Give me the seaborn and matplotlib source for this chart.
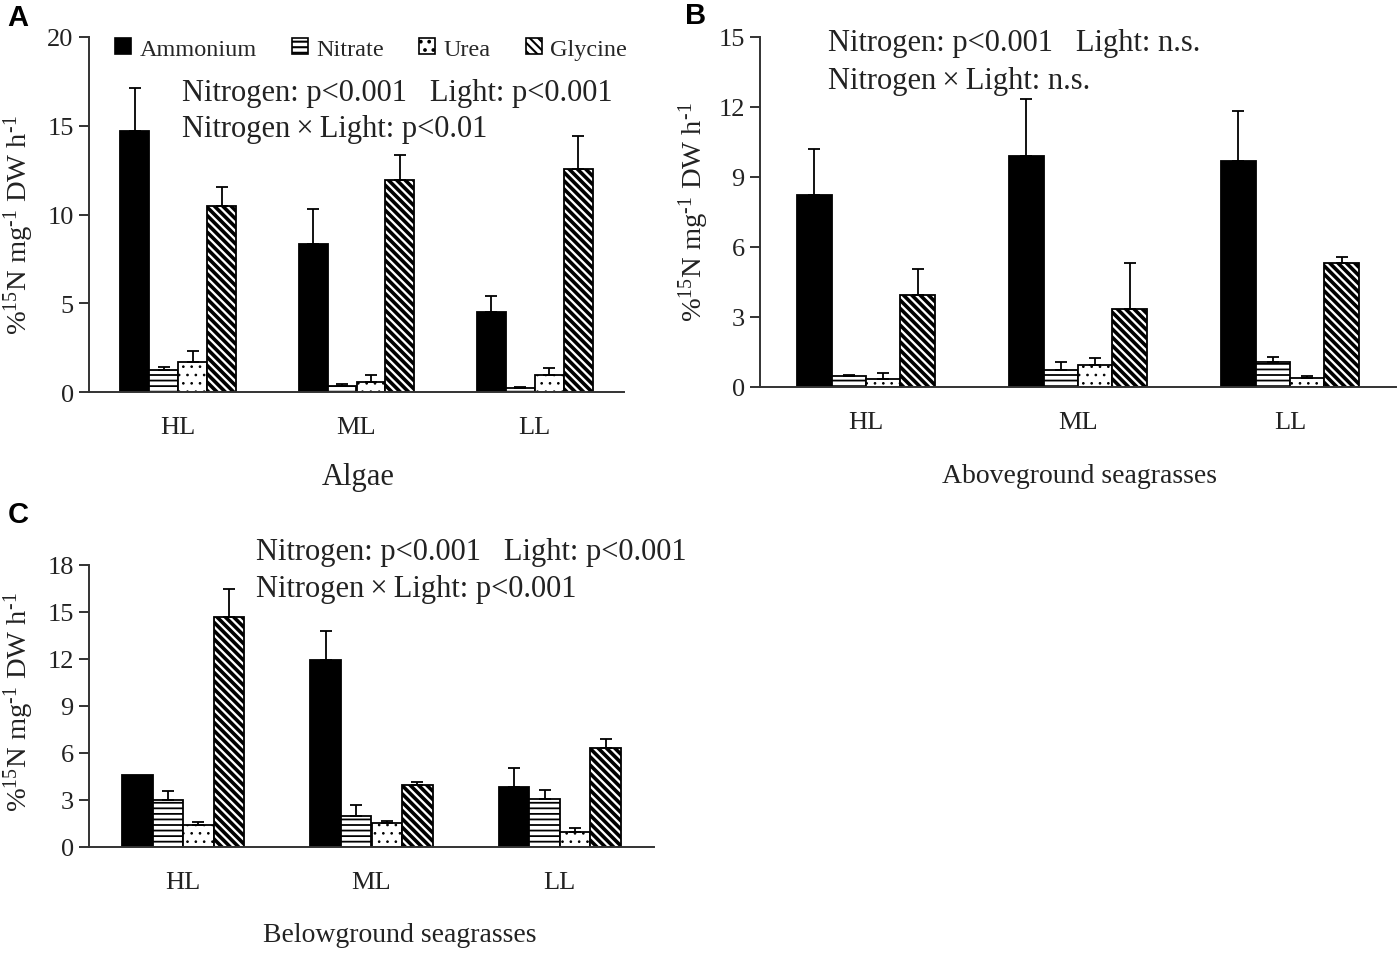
import numpy as np
import pandas as pd
import matplotlib
matplotlib.use("Agg")
import matplotlib.pyplot as plt
from matplotlib.patches import Patch
import seaborn as sns

# ---------------- data ----------------
lights = ["HL", "ML", "LL"]
forms = ["Ammonium", "Nitrate", "Urea", "Glycine"]

# Panel A: Algae (mean, upper SE)
algae_ammonium = [14.70, 8.33, 4.49]
algae_nitrate = [1.26, 0.36, 0.20]
algae_urea = [1.69, 0.55, 0.98]
algae_glycine = [10.49, 11.97, 12.59]
algae_ammonium_se = [2.40, 2.00, 0.94]
algae_nitrate_se = [0.15, 0.07, 0.06]
algae_urea_se = [0.60, 0.43, 0.35]
algae_glycine_se = [1.05, 1.39, 1.83]

# Panel B: Aboveground seagrasses
above_ammonium = [8.24, 9.91, 9.70]
above_nitrate = [0.47, 0.73, 1.07]
above_urea = [0.36, 0.93, 0.40]
above_glycine = [3.93, 3.33, 5.33]
above_ammonium_se = [1.97, 2.45, 2.13]
above_nitrate_se = [0.06, 0.36, 0.22]
above_urea_se = [0.25, 0.33, 0.07]
above_glycine_se = [1.11, 2.00, 0.24]

# Panel C: Belowground seagrasses
below_ammonium = [4.62, 11.94, 3.86]
below_nitrate = [3.00, 1.97, 3.07]
below_urea = [1.38, 1.53, 0.98]
below_glycine = [14.70, 3.97, 6.32]
below_ammonium_se = [0.00, 1.86, 1.19]
below_nitrate_se = [0.56, 0.72, 0.60]
below_urea_se = [0.21, 0.10, 0.21]
below_glycine_se = [1.78, 0.16, 0.59]

yticks_a = [0, 5, 10, 15, 20]
yticks_b = [0, 3, 6, 9, 12, 15]
yticks_c = [0, 3, 6, 9, 12, 15, 18]

stats_a = ["Nitrogen: p<0.001   Light: p<0.001", "Nitrogen\u2009\u00d7\u2009Light: p<0.01"]
stats_b = ["Nitrogen: p<0.001   Light: n.s.", "Nitrogen\u2009\u00d7\u2009Light: n.s."]
stats_c = ["Nitrogen: p<0.001   Light: p<0.001", "Nitrogen\u2009\u00d7\u2009Light: p<0.001"]

titles = ["Algae", "Aboveground seagrasses", "Belowground seagrasses"]
ylabel = "%$^{15}$N mg$^{\u2010 1}$ DW h$^{\u2010 1}$"

# ---------------- style ----------------
sns.set_theme(style="ticks")
plt.rcParams["font.family"] = ["Liberation Serif", "DejaVu Serif"]
plt.rcParams["mathtext.fontset"] = "custom"
plt.rcParams["mathtext.rm"] = "Liberation Serif"
plt.rcParams["mathtext.it"] = "Liberation Serif:italic"
plt.rcParams["mathtext.bf"] = "Liberation Serif:bold"
plt.rcParams["mathtext.default"] = "rm"
plt.rcParams["hatch.linewidth"] = 1.5

palette = {"Ammonium": "black", "Nitrate": "white", "Urea": "white", "Glycine": "white"}
hatches = {"Ammonium": "", "Nitrate": "---", "Urea": "..", "Glycine": "\\\\\\\\"}
hatch_lw = {"Ammonium": 1.0, "Nitrate": 1.3, "Urea": 0.7, "Glycine": 2.6}

W, H = 1399, 954
fig = plt.figure(figsize=(W / 100, H / 100), dpi=100)


def px_axes(left, top, right, bottom):
    return fig.add_axes([left / W, 1 - bottom / H, (right - left) / W, (bottom - top) / H])


def make_df(vals):
    rows = []
    for f, v in zip(forms, vals):
        for l, y in zip(lights, v):
            rows.append({"Light": l, "Nitrogen": f, "Value": y})
    return pd.DataFrame(rows)


def draw_panel(ax, vals, errs, yticks):
    df = make_df(vals)
    sns.barplot(data=df, x="Light", y="Value", hue="Nitrogen", order=lights,
                hue_order=forms, palette=palette, width=0.65, errorbar=None,
                edgecolor="black", linewidth=1.3, legend=False, ax=ax)
    for cont, f, e in zip(ax.containers, forms, errs):
        for bar, ev in zip(cont, e):
            bar.set_hatch(hatches[f])
            if hasattr(bar, "set_hatch_linewidth"):
                bar.set_hatch_linewidth(hatch_lw[f])
            xc = bar.get_x() + bar.get_width() / 2
            hgt = bar.get_height()
            if ev > 0:
                ax.errorbar(xc, hgt, yerr=[[0], [ev]], fmt="none", ecolor="black",
                            elinewidth=1.3, capsize=4, capthick=1.3, zorder=1)
    ax.set_xlim(-0.5, 2.5)
    ax.set_ylim(yticks[0], yticks[-1])
    ax.set_yticks(yticks)
    ax.set_xlabel("")
    ax.set_ylabel("")
    sns.despine(ax=ax)
    for sp in ("left", "bottom"):
        ax.spines[sp].set_linewidth(1.4)
        ax.spines[sp].set_color("#333333")
    ax.tick_params(axis="y", length=7, width=1.4, color="#333333", pad=4,
                   labelsize=19, labelcolor="#222222")
    ax.tick_params(axis="x", length=0, pad=17, labelsize=19, labelcolor="#222222")


axA = px_axes(89, 38, 624, 393)
axB = px_axes(760, 38, 1396, 388)
axC = px_axes(89, 566, 654, 848)

draw_panel(axA, [algae_ammonium, algae_nitrate, algae_urea, algae_glycine],
           [algae_ammonium_se, algae_nitrate_se, algae_urea_se, algae_glycine_se], yticks_a)
draw_panel(axB, [above_ammonium, above_nitrate, above_urea, above_glycine],
           [above_ammonium_se, above_nitrate_se, above_urea_se, above_glycine_se], yticks_b)
draw_panel(axC, [below_ammonium, below_nitrate, below_urea, below_glycine],
           [below_ammonium_se, below_nitrate_se, below_urea_se, below_glycine_se], yticks_c)

# legend (panel A)
handles = []
for f in forms:
    p = Patch(facecolor=palette[f], edgecolor="black", hatch=hatches[f], linewidth=1.2, label=f)
    if hasattr(p, "set_hatch_linewidth"):
        p.set_hatch_linewidth(hatch_lw[f] * 0.8)
    handles.append(p)
axA.legend(handles=handles, ncol=4, frameon=False, loc="center left",
           bbox_to_anchor=(115 / W, 1 - 50 / H), bbox_transform=fig.transFigure,
           fontsize=17.5, handlelength=0.65, handleheight=0.65, handletextpad=0.35,
           columnspacing=1.45, borderpad=0, borderaxespad=0)


def ftext(x, y, s, **kw):
    fig.text(x / W, 1 - y / H, s, **kw)


txt_color = "#222222"
for (x, y1, y2), st in zip([(182, 94, 130), (828, 44, 81), (256, 553, 590)],
                           [stats_a, stats_b, stats_c]):
    ftext(x, y1, st[0], fontsize=22, va="center", ha="left", color=txt_color)
    ftext(x, y2, st[1], fontsize=22, va="center", ha="left", color=txt_color)

# panel titles
ftext(358, 478, titles[0], fontsize=22, ha="center", va="center", color=txt_color)
ftext(1079, 477, titles[1], fontsize=20, ha="center", va="center", color=txt_color)
ftext(400, 936, titles[2], fontsize=20, ha="center", va="center", color=txt_color)

# y labels
for x, y in [(19, 225), (694, 212), (19, 702)]:
    ftext(x, y, ylabel, fontsize=20.5, rotation=90, ha="center", va="center", color=txt_color)

# panel letters
for x, y, s in [(18, 18, "A"), (696, 16, "B"), (18, 515, "C")]:
    ftext(x, y, s, fontsize=21, fontweight="bold", ha="center", va="center",
          family=["Liberation Sans", "DejaVu Sans"], color="black")

fig.savefig("out.png", dpi=100, facecolor="white")
